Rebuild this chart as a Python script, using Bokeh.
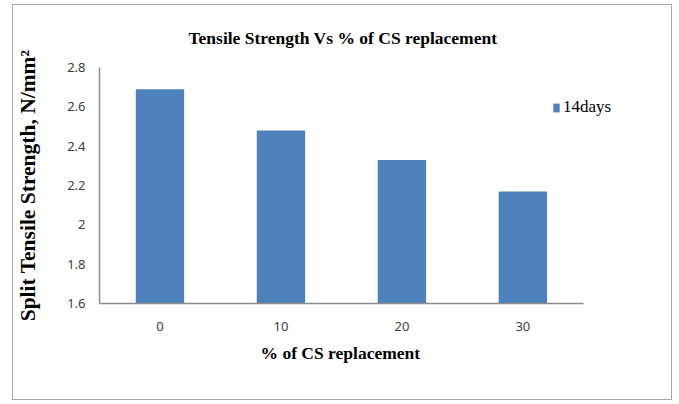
from bokeh.plotting import figure
from bokeh.models import Range1d, FixedTicker, CustomJSTickFormatter, Legend, LegendItem, Title
from bokeh.embed import file_html
from bokeh.resources import INLINE

# Split tensile strength at 14 days for each cement-substitute replacement level
replacement = ["0", "10", "20", "30"]
strength_14d = [2.69, 2.48, 2.33, 2.17]
y_ticks = [1.6, 1.8, 2.0, 2.2, 2.4, 2.6, 2.8]

BAR = "#4F81BD"
AXIS = "#8c8c8c"
TEXT = "#404040"

slots = list(range(len(replacement)))
n = len(replacement)

# the plotting frame reaches past the last category so the legend has room;
# the axis line itself stops at the last category slot
p = figure(
    width=660, height=396,
    x_range=Range1d(-0.5, n - 0.5 + 0.58),
    y_range=Range1d(1.6, 2.8),
    output_backend="svg", toolbar_location=None,
    min_border_left=85, min_border_right=20, min_border_top=62, min_border_bottom=98,
)
p.styles = {"border": "1.5px solid #a8a8a8", "margin-left": "12px", "margin-top": "4px"}

p.title.text = "Tensile Strength Vs % of CS replacement"
p.title.text_font = "Liberation Serif"
p.title.text_font_size = "17.5px"
p.title.text_font_style = "bold"
p.title.text_color = "black"
p.title.align = "left"
p.title.offset = 89
p.title.standoff = 39

r = p.vbar(x=slots, top=strength_14d, bottom=1.6, width=0.4,
           fill_color=BAR, line_color=None)

p.outline_line_color = None
p.grid.visible = False

for ax in (p.xaxis[0], p.yaxis[0]):
    ax.axis_line_color = AXIS
    ax.axis_line_width = 1.5
    ax.major_tick_line_color = None
    ax.minor_tick_line_color = None
    ax.major_tick_out = 0
    ax.major_tick_in = 0
    ax.major_label_text_font = "Noto Sans"
    ax.major_label_text_font_size = "13px"
    ax.major_label_text_color = TEXT
    ax.axis_label_text_font = "Liberation Serif"
    ax.axis_label_text_font_style = "bold"
    ax.axis_label_text_color = "black"

p.yaxis.ticker = FixedTicker(ticks=y_ticks)
p.yaxis.formatter = CustomJSTickFormatter(code="return String(Math.round(tick * 10) / 10);")
p.yaxis.major_label_standoff = 14
p.yaxis.axis_label = "Split Tensile Strength, N/mm\u00b2"
p.yaxis.axis_label_text_font_size = "21.5px"
p.yaxis.axis_label_standoff = 24

p.xaxis.bounds = (-0.5, n - 0.5)
p.xaxis.ticker = FixedTicker(ticks=slots)
p.xaxis.major_label_overrides = {i: lab for i, lab in zip(slots, replacement)}
p.xaxis.major_label_standoff = 18

# x-axis title, centred under the category slots rather than the whole frame
p.add_layout(Title(text="% of CS replacement", align="left", offset=161,
                   text_font="Liberation Serif", text_font_style="bold",
                   text_font_size="17.5px", text_color="black", standoff=15), "below")

legend = Legend(
    items=[LegendItem(label="14days", renderers=[r])],
    location=(453, 186),
    label_text_font="Liberation Serif", label_text_font_size="17px",
    label_text_color="black",
    glyph_width=8, glyph_height=11, label_standoff=3,
    padding=0, margin=0, spacing=0,
    border_line_color=None, background_fill_alpha=0,
)
p.add_layout(legend)

open("out.html", "w").write(file_html(p, INLINE))
